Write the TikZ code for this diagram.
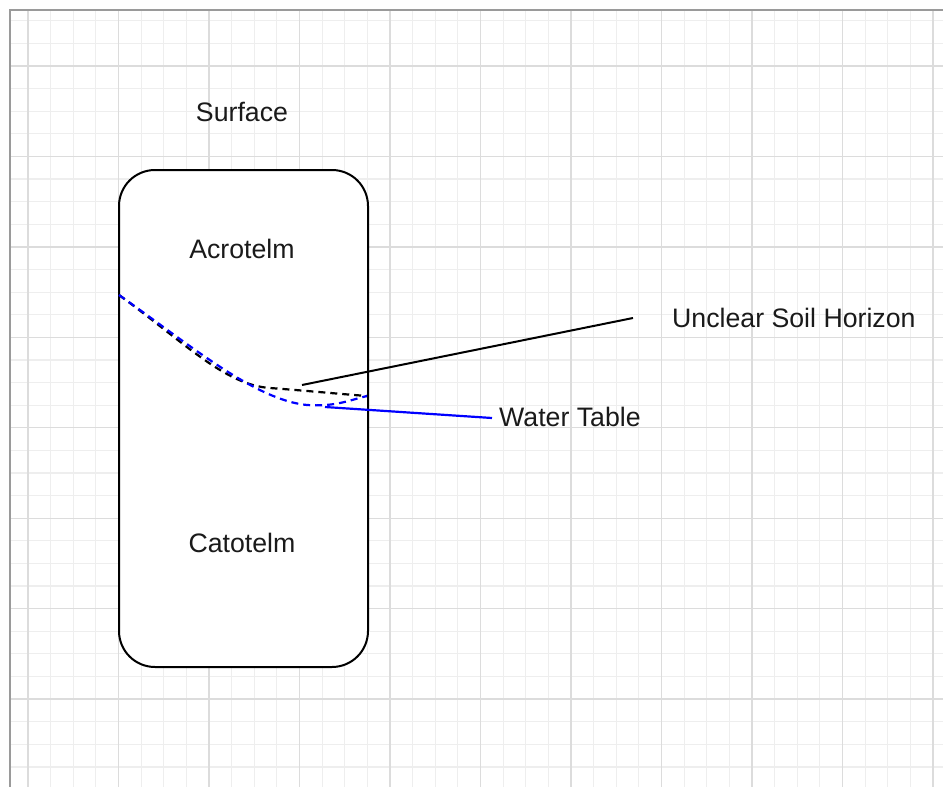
\documentclass[tikz,border=0pt]{standalone}
\usepackage{fontspec}
\setmainfont{Liberation Sans}
\definecolor{gridmajor}{HTML}{DCDCDC}
\definecolor{gridminor}{HTML}{EEEEEE}
\definecolor{framegray}{HTML}{9A9A9A}
\definecolor{wblue}{HTML}{0000FF}
\definecolor{txt}{HTML}{1A1A1A}
\tikzset{
  lbl/.style={inner sep=0pt, anchor=base west, font=\fontsize{26.7}{30}\selectfont, text=txt},
  lblc/.style={inner sep=0pt, anchor=base, font=\fontsize{26.7}{30}\selectfont, text=txt},
  layerbox/.style={draw=black, line width=2pt, fill=white, rounded corners=36pt, inner sep=0pt},
  horizondash/.style={draw=black, line width=2.2pt, dash pattern=on 7pt off 5pt},
  waterdash/.style={draw=wblue, line width=2.2pt, dash pattern=on 7pt off 5pt},
  blackleader/.style={draw=black, line width=2pt},
  blueleader/.style={draw=wblue, line width=2.2pt},
}
\begin{document}
\begin{tikzpicture}[x=1pt, y=-1pt]
\useasboundingbox (0,0) rectangle (943,787);
\fill[white] (0,0) rectangle (943,787);
% grid
\begin{scope}
\clip (10,10) rectangle (943,787);
\foreach \i in {-1,...,41} {
  \pgfmathsetmacro{\xx}{28+22.625*\i}
  \draw[gridminor, line width=1.2pt] (\xx,10) -- (\xx,787);
}
\foreach \i in {-3,...,32} {
  \pgfmathsetmacro{\yy}{66+22.61*\i}
  \draw[gridminor, line width=1.2pt] (10,\yy) -- (943,\yy);
}
\foreach \i in {0,...,10} {
  \pgfmathsetmacro{\xx}{28+90.5*\i}
  \draw[gridmajor, line width=1.3pt] (\xx,10) -- (\xx,787);
}
\foreach \i in {-1,...,8} {
  \pgfmathsetmacro{\yy}{66+90.43*\i}
  \draw[gridmajor, line width=1.3pt] (10,\yy) -- (943,\yy);
}
\end{scope}
\draw[framegray, line width=2pt] (10,787) -- (10,10) -- (943,10);

% box
\node[layerbox, minimum width=249pt, minimum height=497pt] (box) at (243.5,418.5) {};

% texts
\node[lblc] (surface) at (242,121) {Surface};
\node[lblc] (acro) at (242,258) {Acrotelm};
\node[lblc] (cato) at (242,552) {Catotelm};
\node[lbl] (soil) at (672,327) {Unclear Soil Horizon};
\node[lbl] (water) at (499,426) {Water Table};

% curves
\coordinate (cstart) at (119,295);
\coordinate (cend) at (367,396);
\draw[horizondash] (cstart) .. controls (185,343) and (225,385) .. (270,388) .. controls (310,391) and (340,394) .. (cend);
\draw[waterdash] (cstart) .. controls (190,345) and (255,400) .. (307,405) .. controls (335,407) and (350,400) .. (cend);

% leaders
\coordinate (soilpt) at (302,385);
\coordinate (soilend) at (633,318);
\coordinate (waterpt) at (325,407);
\coordinate (waterend) at (492,418);
\draw[blackleader] (soilpt) -- (soilend);
\draw[blueleader] (waterpt) -- (waterend);
\end{tikzpicture}
\end{document}
